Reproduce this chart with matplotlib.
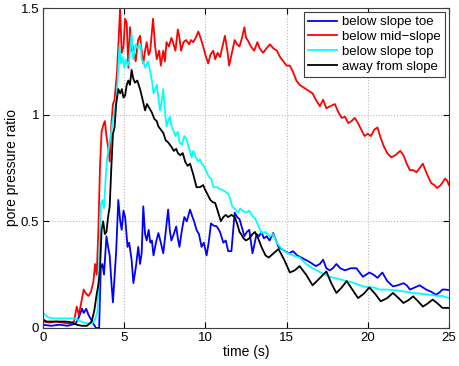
import numpy as np
import matplotlib
matplotlib.use("Agg")
import matplotlib.pyplot as plt

plt.rcParams['font.family'] = ['Liberation Sans', 'DejaVu Sans']

# ---------------------------------------------------------------
# data (time in s, pore pressure ratio)
# ---------------------------------------------------------------

# below slope toe (blue)
t_toe = [0, 0.5, 1.0, 1.5, 2.0, 2.2, 2.4, 2.5, 2.65, 2.8,
         2.95, 3.1, 3.25, 3.45, 3.55, 3.65, 3.75, 3.9, 4.0, 4.1,
         4.2, 4.3, 4.4, 4.5, 4.63, 4.75, 4.84, 4.95, 5.05, 5.2,
         5.3, 5.45, 5.56, 5.72, 5.86, 5.97, 6.07, 6.17, 6.28, 6.38,
         6.5, 6.6, 6.7, 6.8, 6.95, 7.1, 7.25, 7.4, 7.55, 7.7,
         7.8, 7.9, 8.05, 8.2, 8.3, 8.4, 8.55, 8.7, 8.85, 9.05,
         9.2, 9.3, 9.45, 9.6, 9.76, 9.9, 10.07, 10.2, 10.34, 10.5,
         10.7, 10.9, 11.1, 11.25, 11.4, 11.6, 11.8, 11.95, 12.1, 12.25,
         12.4, 12.55, 12.7, 12.9, 13.15, 13.3, 13.45, 13.6, 13.77, 13.95,
         14.17, 14.35, 14.5, 14.7, 14.9, 15.15, 15.4, 15.65, 15.9, 16.15,
         16.4, 16.6, 16.8, 17.05, 17.25, 17.45, 17.66, 17.85, 18.07, 18.3,
         18.6, 18.95, 19.3, 19.5, 19.7, 19.9, 20.1, 20.35, 20.6, 20.9,
         21.2, 21.55, 21.85, 22.2, 22.4, 22.6, 22.9, 23.2, 23.4, 23.6,
         23.9, 24.2, 24.4, 24.6, 24.8, 25.0]
p_toe = [0.015, 0.01, 0.015, 0.01, 0.02, 0.05, 0.09, 0.07, 0.09, 0.06,
         0.04, 0.02, 0.0, 0.0, 0.28, 0.30, 0.25, 0.43, 0.38, 0.34,
         0.22, 0.12, 0.24, 0.36, 0.60, 0.50, 0.46, 0.55, 0.52, 0.38,
         0.40, 0.32, 0.21, 0.29, 0.38, 0.30, 0.35, 0.57, 0.44, 0.41,
         0.46, 0.40, 0.41, 0.34, 0.40, 0.445, 0.40, 0.35, 0.45, 0.555,
         0.46, 0.41, 0.44, 0.476, 0.42, 0.38, 0.46, 0.52, 0.50, 0.555,
         0.52, 0.50, 0.46, 0.44, 0.38, 0.40, 0.34, 0.40, 0.49, 0.48,
         0.476, 0.45, 0.40, 0.41, 0.36, 0.36, 0.54, 0.52, 0.51, 0.47,
         0.43, 0.45, 0.46, 0.35, 0.44, 0.43, 0.45, 0.42, 0.43, 0.41,
         0.445, 0.41, 0.38, 0.37, 0.36, 0.35, 0.36, 0.34, 0.33, 0.32,
         0.31, 0.30, 0.29, 0.30, 0.32, 0.28, 0.27, 0.28, 0.30, 0.28,
         0.27, 0.28, 0.28, 0.26, 0.24, 0.25, 0.26, 0.25, 0.235, 0.26,
         0.22, 0.195, 0.20, 0.21, 0.20, 0.18, 0.19, 0.20, 0.19, 0.18,
         0.17, 0.156, 0.165, 0.18, 0.18, 0.177]

# below mid-slope (red)
t_mid = [0, 0.4, 0.8, 1.2, 1.6, 1.9, 2.07, 2.2, 2.35, 2.5,
         2.65, 2.8, 2.95, 3.1, 3.2, 3.3, 3.4, 3.5, 3.6, 3.7,
         3.8, 3.9, 4.0, 4.1, 4.2, 4.3, 4.4, 4.55, 4.65, 4.74,
         4.84, 4.95, 5.05, 5.15, 5.25, 5.35, 5.45, 5.54, 5.7, 5.85,
         5.97, 6.07, 6.17, 6.28, 6.38, 6.5, 6.6, 6.77, 6.9, 7.0,
         7.15, 7.25, 7.4, 7.5, 7.6, 7.75, 7.9, 8.0, 8.15, 8.3,
         8.4, 8.5, 8.65, 8.8, 9.0, 9.1, 9.25, 9.4, 9.56, 9.7,
         9.86, 10.0, 10.17, 10.3, 10.48, 10.6, 10.75, 10.9, 11.05, 11.2,
         11.35, 11.46, 11.6, 11.8, 11.95, 12.1, 12.25, 12.4, 12.5, 12.6,
         12.8, 13.0, 13.2, 13.35, 13.55, 13.75, 13.97, 14.2, 14.4, 14.6,
         14.8, 15.0, 15.2, 15.4, 15.6, 15.8, 16.0, 16.2, 16.4, 16.6,
         16.8, 17.05, 17.25, 17.45, 17.7, 17.97, 18.2, 18.4, 18.6, 18.8,
         19.0, 19.2, 19.4, 19.6, 19.8, 20.0, 20.2, 20.4, 20.6, 20.8,
         21.0, 21.2, 21.45, 21.7, 22.0, 22.2, 22.4, 22.6, 22.8, 23.0,
         23.2, 23.4, 23.6, 23.9, 24.1, 24.27, 24.5, 24.77, 24.9, 25.0]
p_mid = [0.03, 0.025, 0.03, 0.025, 0.02, 0.03, 0.10, 0.06, 0.12, 0.18,
         0.16, 0.15, 0.17, 0.22, 0.30, 0.25, 0.45, 0.75, 0.92, 0.95,
         0.97, 0.90, 0.85, 0.78, 0.95, 1.05, 1.07, 1.20, 1.35, 1.50,
         1.29, 1.32, 1.45, 1.43, 1.22, 1.41, 1.30, 1.32, 1.25, 1.35,
         1.37, 1.30, 1.24, 1.30, 1.34, 1.28, 1.30, 1.45, 1.32, 1.26,
         1.30, 1.23, 1.30, 1.25, 1.34, 1.32, 1.36, 1.34, 1.30, 1.40,
         1.36, 1.30, 1.34, 1.35, 1.33, 1.35, 1.34, 1.36, 1.39, 1.36,
         1.32, 1.28, 1.24, 1.28, 1.30, 1.26, 1.29, 1.27, 1.32, 1.37,
         1.30, 1.23, 1.28, 1.35, 1.33, 1.32, 1.36, 1.41, 1.36, 1.35,
         1.32, 1.30, 1.34, 1.31, 1.29, 1.31, 1.33, 1.31, 1.30, 1.27,
         1.25, 1.23, 1.23, 1.20, 1.16, 1.14, 1.13, 1.12, 1.11, 1.10,
         1.07, 1.04, 1.07, 1.03, 1.04, 1.05, 1.01, 0.985, 0.99, 0.96,
         0.97, 0.985, 0.96, 0.93, 0.90, 0.91, 0.90, 0.93, 0.94, 0.89,
         0.85, 0.82, 0.80, 0.81, 0.83, 0.81, 0.77, 0.74, 0.74, 0.73,
         0.75, 0.77, 0.73, 0.68, 0.67, 0.656, 0.67, 0.70, 0.69, 0.67]

# below slope top (cyan)
t_top = [0, 0.15, 0.3, 0.6, 1.0, 1.5, 1.9, 2.2, 2.5, 2.8,
         3.0, 3.2, 3.35, 3.45, 3.55, 3.65, 3.75, 3.85, 3.95, 4.1,
         4.2, 4.3, 4.4, 4.55, 4.7, 4.8, 4.9, 5.0, 5.1, 5.2,
         5.3, 5.45, 5.55, 5.7, 5.85, 6.0, 6.07, 6.2, 6.3, 6.45,
         6.58, 6.7, 6.8, 6.9, 7.0, 7.1, 7.2, 7.3, 7.4, 7.5,
         7.6, 7.7, 7.8, 7.9, 8.0, 8.15, 8.3, 8.4, 8.55, 8.7,
         8.85, 9.0, 9.15, 9.25, 9.4, 9.55, 9.66, 9.77, 9.9, 10.07,
         10.2, 10.35, 10.5, 10.7, 10.9, 11.0, 11.2, 11.4, 11.5, 11.65,
         11.8, 11.9, 12.0, 12.15, 12.3, 12.5, 12.7, 12.85, 13.05, 13.25,
         13.45, 13.7, 13.95, 14.17, 14.4, 14.6, 14.85, 15.1, 15.4, 15.8,
         16.2, 16.6, 17.1, 17.66, 18.2, 18.7, 19.2, 19.7, 20.1, 20.4,
         20.7, 21.2, 21.8, 22.3, 22.8, 23.3, 23.8, 24.3, 24.6, 24.8,
         25.0]
p_top = [0.07, 0.06, 0.05, 0.045, 0.045, 0.045, 0.045, 0.035, 0.025, 0.02,
         0.02, 0.04, 0.08, 0.30, 0.58, 0.60, 0.56, 0.70, 0.80, 0.87,
         0.92, 0.98, 1.02, 1.10, 1.32, 1.24, 1.27, 1.22, 1.26, 1.23,
         1.25, 1.38, 1.26, 1.33, 1.31, 1.33, 1.26, 1.24, 1.22, 1.25,
         1.21, 1.16, 1.10, 1.12, 1.14, 1.08, 1.02, 1.06, 1.12, 1.02,
         0.945, 0.97, 0.99, 0.95, 0.93, 0.90, 0.92, 0.87, 0.86, 0.90,
         0.88, 0.84, 0.80, 0.83, 0.80, 0.78, 0.79, 0.77, 0.76, 0.73,
         0.71, 0.70, 0.66, 0.66, 0.65, 0.65, 0.64, 0.63, 0.61, 0.57,
         0.56, 0.55, 0.54, 0.56, 0.55, 0.54, 0.55, 0.53, 0.515, 0.48,
         0.445, 0.45, 0.43, 0.44, 0.40, 0.38, 0.36, 0.35, 0.34, 0.33,
         0.30, 0.28, 0.26, 0.24, 0.23, 0.22, 0.21, 0.195, 0.19, 0.19,
         0.18, 0.18, 0.176, 0.17, 0.164, 0.16, 0.156, 0.15, 0.15, 0.145,
         0.14]

# away from slope (black)
t_away = [0, 0.2, 0.6, 1.0, 1.4, 1.8, 2.07, 2.4, 2.7, 2.99,
          3.15, 3.3, 3.4, 3.5, 3.6, 3.7, 3.8, 3.9, 4.0, 4.1,
          4.2, 4.3, 4.4, 4.5, 4.63, 4.75, 4.85, 4.95, 5.05, 5.15,
          5.25, 5.35, 5.45, 5.55, 5.66, 5.8, 5.97, 6.1, 6.28, 6.4,
          6.55, 6.7, 6.85, 7.0, 7.1, 7.25, 7.4, 7.55, 7.7, 7.9,
          8.05, 8.2, 8.3, 8.45, 8.6, 8.75, 8.9, 9.05, 9.25, 9.45,
          9.66, 9.86, 9.97, 10.17, 10.3, 10.45, 10.6, 10.75, 10.95, 11.1,
          11.25, 11.4, 11.6, 11.8, 11.95, 12.1, 12.2, 12.35, 12.5, 12.7,
          12.9, 13.05, 13.25, 13.45, 13.7, 13.9, 14.2, 14.5, 14.85, 15.2,
          15.5, 15.8, 16.2, 16.6, 17.0, 17.45, 17.75, 18.07, 18.4, 18.7,
          19.05, 19.4, 19.75, 20.1, 20.45, 20.8, 21.2, 21.55, 21.9, 22.2,
          22.5, 22.8, 23.1, 23.4, 23.7, 24.0, 24.3, 24.6, 24.8, 25.0]
p_away = [0.04, 0.03, 0.03, 0.03, 0.03, 0.025, 0.015, 0.01, 0.01, 0.03,
          0.08, 0.16, 0.20, 0.27, 0.46, 0.50, 0.44, 0.45, 0.52, 0.57,
          0.75, 0.91, 0.94, 1.05, 1.12, 1.10, 1.12, 1.08, 1.09, 1.14,
          1.16, 1.14, 1.21, 1.17, 1.15, 1.16, 1.12, 1.08, 1.02, 1.05,
          1.03, 1.01, 0.98, 0.97, 0.945, 0.93, 0.915, 0.88, 0.87, 0.85,
          0.83, 0.84, 0.82, 0.81, 0.82, 0.78, 0.76, 0.77, 0.72, 0.66,
          0.66, 0.67, 0.65, 0.62, 0.60, 0.59, 0.586, 0.55, 0.50, 0.52,
          0.53, 0.52, 0.53, 0.52, 0.49, 0.45, 0.44, 0.42, 0.41, 0.42,
          0.44, 0.45, 0.42, 0.38, 0.34, 0.33, 0.35, 0.37, 0.32, 0.26,
          0.27, 0.29, 0.25, 0.20, 0.23, 0.265, 0.21, 0.164, 0.19, 0.22,
          0.18, 0.14, 0.16, 0.19, 0.16, 0.125, 0.14, 0.164, 0.14, 0.117,
          0.13, 0.148, 0.125, 0.10, 0.115, 0.133, 0.115, 0.094, 0.094, 0.094]

labels = ['below slope toe', 'below mid\u2212slope', 'below slope top', 'away from slope']

##############################################################################
# plot
##############################################################################

fig = plt.figure(figsize=(4.59, 3.66), dpi=100)
ax = fig.add_axes([0.094, 0.104, 0.884, 0.874])

ax.plot(t_toe, p_toe, color=(0, 0, 1), lw=1.3, label=labels[0])
ax.plot(t_mid, p_mid, color=(1, 0, 0), lw=1.3, label=labels[1])
ax.plot(t_top, p_top, color=(0, 1, 1), lw=1.3, label=labels[2])
ax.plot(t_away, p_away, color=(0, 0, 0), lw=1.3, label=labels[3])

ax.set_xlim(0, 25)
ax.set_ylim(0, 1.5)
ax.set_xticks([0, 5, 10, 15, 20, 25])
ax.set_yticks([0, 0.5, 1, 1.5])
ax.set_yticklabels(['0', '0.5', '1', '1.5'])
ax.tick_params(direction='in', top=True, right=True, labelsize=9.5, length=4, pad=3)
ax.grid(True, linestyle=':', color='#b8b8b8', lw=0.8)
for s in ax.spines.values():
    s.set_color('#3c3c3c')
    s.set_linewidth(0.8)

ax.set_xlabel('time (s)', fontsize=10, labelpad=1)
ax.set_ylabel('pore pressure ratio', fontsize=10, labelpad=1)

leg = ax.legend(loc='upper right', fontsize=9.5, fancybox=False, framealpha=1,
                edgecolor='#3c3c3c', borderaxespad=0.3, handlelength=2.2,
                labelspacing=0.2, borderpad=0.3, handletextpad=0.4)
leg.get_frame().set_linewidth(0.8)

fig.savefig('out.png', dpi=100)
